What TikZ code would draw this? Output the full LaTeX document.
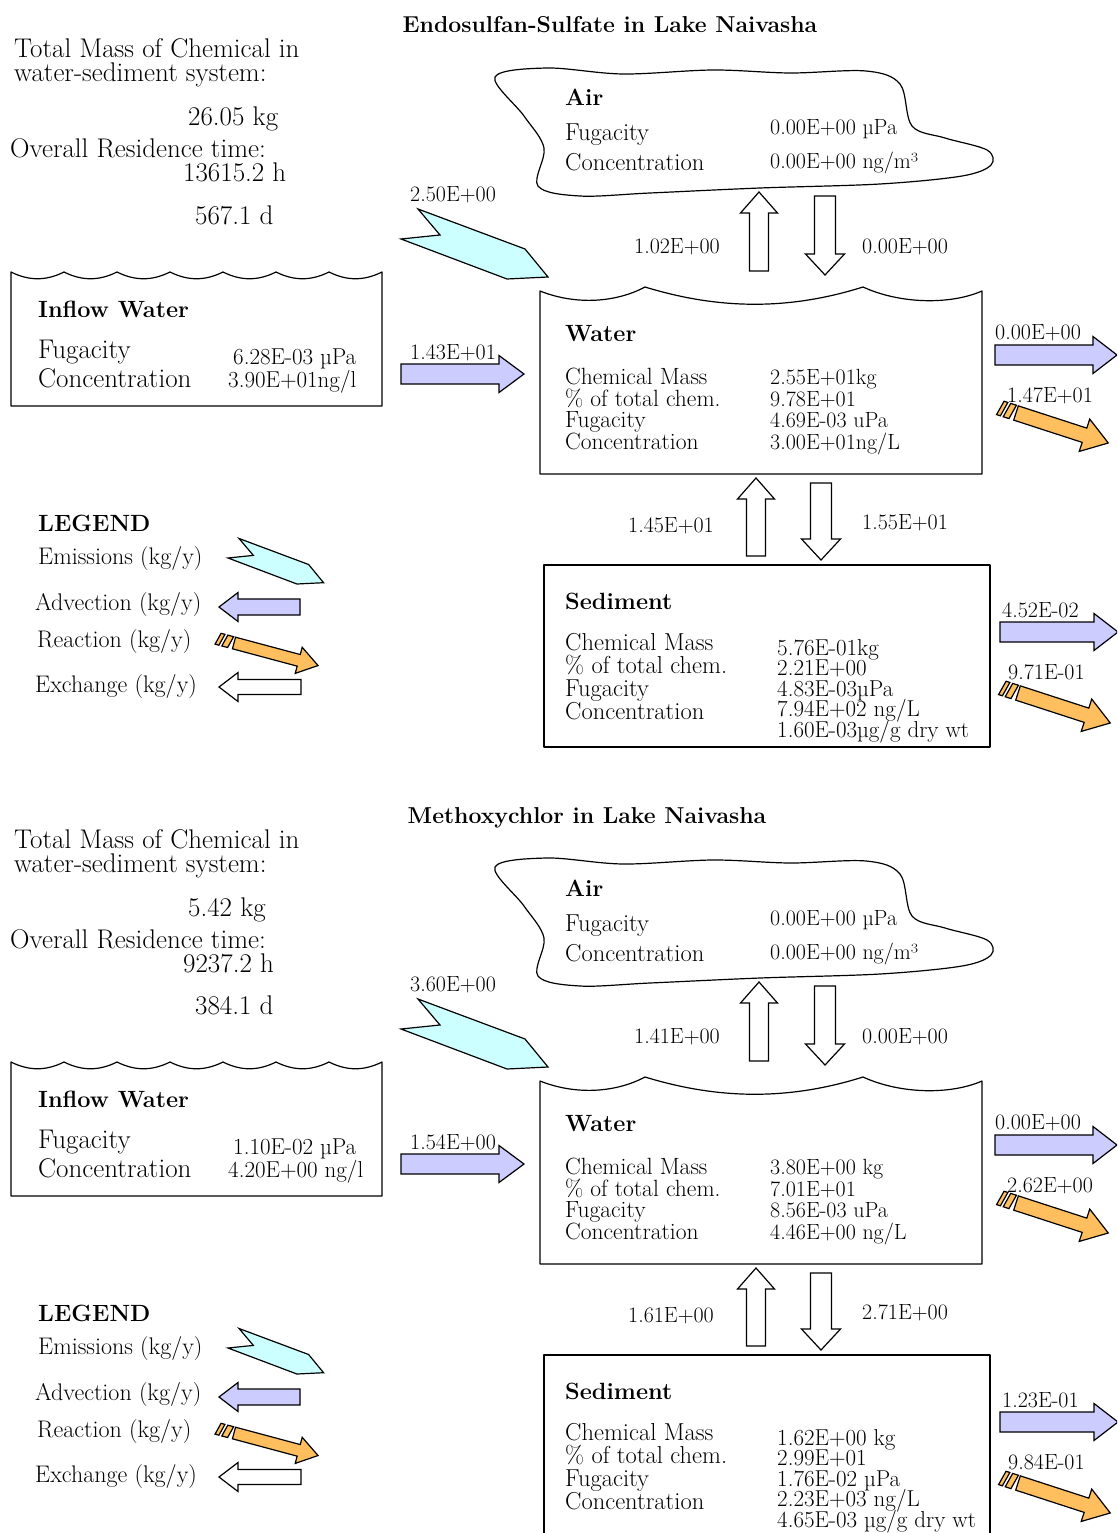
\documentclass[tikz,border=0pt]{standalone}
\usepackage{fontspec}
\usetikzlibrary{calc}
\definecolor{emis}{HTML}{CCFFFF}
\definecolor{adv}{HTML}{CCCCFF}
\definecolor{reac}{HTML}{FFBF5F}
\lineskiplimit=-30pt

\tikzset{
  txt/.style={inner sep=0pt,anchor=base west,align=left,font=\fontsize{24.5}{21}\selectfont},
  val/.style={txt,font=\fontsize{22}{21}\selectfont},
  big/.style={txt,font=\fontsize{27}{24}\selectfont},
  hdr/.style={txt,font=\fontsize{23.5}{23}\selectfont\bfseries},
  num/.style={txt,font=\fontsize{22}{20}\selectfont},
  box/.style={line width=1.2pt,line join=round},
  arr/.style={draw,line width=1.2pt,line join=miter},
  pics/blockarrow/.style n args={4}{code={
    \draw[pic actions] (0,-#2/2) -- ({#1-#4},-#2/2) -- ({#1-#4},-#3/2) -- (#1,0)
      -- ({#1-#4},#3/2) -- ({#1-#4},#2/2) -- (0,#2/2) -- cycle;}},
  pics/reactarrow/.style n args={4}{code={
    \draw[pic actions] (-18,#2/2) -- (-14,#2/2) -- (-11,-#2/2) -- (-15,-#2/2) -- cycle;
    \draw[pic actions] (-11,#2/2) -- (-5,#2/2) -- (-2,-#2/2) -- (-8,-#2/2) -- cycle;
    \draw[pic actions] (0,-#2/2) -- ({#1-#4},-#2/2) -- ({#1-#4},-#3/2) -- (#1,0)
      -- ({#1-#4},#3/2) -- ({#1-#4},#2/2) -- (0,#2/2) -- cycle;}},
  pics/emission/.style={code={
    \draw[pic actions] (0,0) -- (39,-4) -- (17,-30) -- (124,10) -- (147,38) -- (106,40) -- cycle;}},
}

% one lake panel, values come from the \lk... macros
\newcommand{\lakepanel}[1]{%
\begin{scope}[shift={(0,#1)}]
  \node[hdr,anchor=base,font=\fontsize{23}{23}\selectfont\bfseries] (title) at (\lkTitleX,33) {\lkTitle};
  % totals
  \node[big] (tot1) at (14,58) {Total Mass of Chemical in};
  \node[big] (tot2) at (14,82) {water-sediment system:};
  \node[big] (mass) at (188,126) {\lkMass};
  \node[big] (res) at (10,158) {Overall Residence time:};
  \node[big] (resh) at (183,182) {\lkResH};
  \node[big] (resd) at (195,224) {\lkResD};
  % air
  \draw[box] plot[smooth cycle,tension=0.55] coordinates {(495,77) (547,68) (623,74) (713,70)
    (790,73) (866,71) (900,84) (912,126) (945,138) (987,150) (991,165) (962,176) (880,184)
    (760,188) (650,193) (580,196) (538,186) (544,148) (524,116)};
  \node[hdr] (airhd) at (565,106) {Air};
  \node[txt] (airfl) at (565,141) {Fugacity};
  \node[txt] (aircl) at (565,171) {Concentration};
  \node[val] (airfv) at (770,135) {0.00E+00 µPa};
  \node[val] (aircv) at (770,169) {0.00E+00 ng/m³};
  % inflow water
  \draw[box] (382,406) -- (11,406) -- (11,272)
    \foreach \k in {1,...,7} { .. controls +(18,9) and +(-18,9) .. ++(53,0) } -- cycle;
  \node[hdr] (inhd) at (38,317) {Inflow Water};
  \node[big] (infl) at (38,358) {Fugacity};
  \node[big] (incl) at (38,387) {Concentration};
  \node[val,font=\fontsize{23}{21}\selectfont] (infv) at (233,364) {\lkInFug};
  \node[val,font=\fontsize{23}{21}\selectfont] (incv) at (228,387) {\lkInConc};
  % water (base anchor sits on the last line)
  \draw[box] (982,474) -- (540,474) -- (540,291)
    .. controls (575,305) and (615,303) .. (645,287)
    .. controls (720,310) and (790,310) .. (863,287)
    .. controls (900,304) and (950,305) .. (982,291) -- cycle;
  \node[hdr] (whd) at (565,341) {Water};
  \node[txt,font=\fontsize{23.5}{21.5}\selectfont] (wlab) at (565,449)
    {Chemical Mass\\\% of total chem.\\Fugacity\\Concentration};
  \node[val,font=\fontsize{22}{21.5}\selectfont] (wval) at (770,449)
    {\lkWMass\\\lkWPct\\\lkWFug\\\lkWConc};
  % sediment
  \draw[box] (544,565) rectangle (990,747);
  \node[hdr] (shd) at (565,609) {Sediment};
  \node[txt,font=\fontsize{24.5}{23}\selectfont] (slab) at (565,719)
    {Chemical Mass\\\% of total chem.\\Fugacity\\Concentration};
  \node[val,font=\fontsize{23}{20.5}\selectfont] (sval) at (777,737)
    {\lkSMass\\\lkSPct\\\lkSFug\\\lkSConc\\\lkSDry};
  % flows
  \pic[arr,fill=emis] at (401,239) {emission};
  \node[num] (emisv) at (410,201) {\lkEmis};
  \pic[arr,fill=adv] at (401,374) {blockarrow={123}{20}{37}{25}};
  \node[num] (advin) at (410,359) {\lkAdvIn};
  \pic[arr,fill=white,rotate=90] at (759,271) {blockarrow={79}{19}{37}{21}};
  \pic[arr,fill=white,rotate=-90] at (825,196) {blockarrow={79}{21}{39}{21}};
  \node[num,anchor=base east] (airup) at (720,253) {\lkAirUp};
  \node[num] (airdn) at (862,253) {\lkAirDown};
  \pic[arr,fill=white,rotate=90] at (756,556) {blockarrow={78}{19}{37}{21}};
  \pic[arr,fill=white,rotate=-90] at (821,483) {blockarrow={77}{21}{39}{21}};
  \node[num,anchor=base east] (sedup) at (714,532) {\lkSedUp};
  \node[num] (seddn) at (862,529) {\lkSedDown};
  \pic[arr,fill=adv] at (995,355) {blockarrow={122}{20}{37}{24}};
  \node[num] (wadv) at (995,339) {\lkWAdv};
  \pic[arr,fill=reac,rotate=-18] at (1016,413) {reactarrow={97}{15}{34}{25}};
  \node[num] (wreac) at (1007,402) {\lkWReac};
  \pic[arr,fill=adv] at (1000,632) {blockarrow={118}{20}{37}{24}};
  \node[num] (sadv) at (1002,617) {\lkSAdv};
  \pic[arr,fill=reac,rotate=-18] at (1018,693) {reactarrow={97}{15}{34}{25}};
  \node[num] (sreac) at (1008,679) {\lkSReac};
  % legend
  \node[hdr] (leg) at (38,531) {LEGEND};
  \node[txt,font=\fontsize{24}{21}\selectfont] (legemis) at (38,564) {Emissions (kg/y)};
  \node[txt,font=\fontsize{24}{21}\selectfont] (legadv) at (35,610) {Advection (kg/y)};
  \node[txt,font=\fontsize{24}{21}\selectfont] (legreac) at (37,647) {Reaction (kg/y)};
  \node[txt,font=\fontsize{24}{21}\selectfont] (legexch) at (35,692) {Exchange (kg/y)};
  \pic[arr,fill=emis,scale=0.65] at (228,558) {emission};
  \pic[arr,fill=adv,rotate=180] at (300,607) {blockarrow={81}{16}{29}{19}};
  \pic[arr,fill=reac,rotate=-15] at (234,643) {reactarrow={87}{12}{27}{20}};
  \pic[arr,fill=white,rotate=180] at (301,687) {blockarrow={82}{15}{29}{19}};
\end{scope}}

\begin{document}
\begin{tikzpicture}[x=1pt,y=-1pt]
\useasboundingbox (0,0) rectangle (1117,1533);
\clip (0,0) rectangle (1117,1533);
\fill[white] (0,0) rectangle (1117,1533);

\def\lkTitle{Endosulfan-Sulfate in Lake Naivasha}\def\lkTitleX{610}
\def\lkMass{26.05 kg}\def\lkResH{13615.2 h}\def\lkResD{567.1 d}
\def\lkEmis{2.50E+00}\def\lkAdvIn{1.43E+01}
\def\lkInFug{6.28E-03 µPa}\def\lkInConc{3.90E+01ng/l}
\def\lkAirUp{1.02E+00}\def\lkAirDown{0.00E+00}
\def\lkWMass{2.55E+01kg}\def\lkWPct{9.78E+01}\def\lkWFug{4.69E-03 uPa}\def\lkWConc{3.00E+01ng/L}
\def\lkWAdv{0.00E+00}\def\lkWReac{1.47E+01}
\def\lkSedUp{1.45E+01}\def\lkSedDown{1.55E+01}
\def\lkSMass{5.76E-01kg}\def\lkSPct{2.21E+00}\def\lkSFug{4.83E-03µPa}
\def\lkSConc{7.94E+02 ng/L}\def\lkSDry{1.60E-03µg/g dry wt}
\def\lkSAdv{4.52E-02}\def\lkSReac{9.71E-01}
\lakepanel{0}

\def\lkTitle{Methoxychlor in Lake Naivasha}\def\lkTitleX{587}
\def\lkMass{5.42 kg}\def\lkResH{9237.2 h}\def\lkResD{384.1 d}
\def\lkEmis{3.60E+00}\def\lkAdvIn{1.54E+00}
\def\lkInFug{1.10E-02 µPa}\def\lkInConc{4.20E+00 ng/l}
\def\lkAirUp{1.41E+00}\def\lkAirDown{0.00E+00}
\def\lkWMass{3.80E+00 kg}\def\lkWPct{7.01E+01}\def\lkWFug{8.56E-03 uPa}\def\lkWConc{4.46E+00 ng/L}
\def\lkWAdv{0.00E+00}\def\lkWReac{2.62E+00}
\def\lkSedUp{1.61E+00}\def\lkSedDown{2.71E+00}
\def\lkSMass{1.62E+00 kg}\def\lkSPct{2.99E+01}\def\lkSFug{1.76E-02 µPa}
\def\lkSConc{2.23E+03 ng/L}\def\lkSDry{4.65E-03 µg/g dry wt}
\def\lkSAdv{1.23E-01}\def\lkSReac{9.84E-01}
\lakepanel{790}
\end{tikzpicture}
\end{document}
